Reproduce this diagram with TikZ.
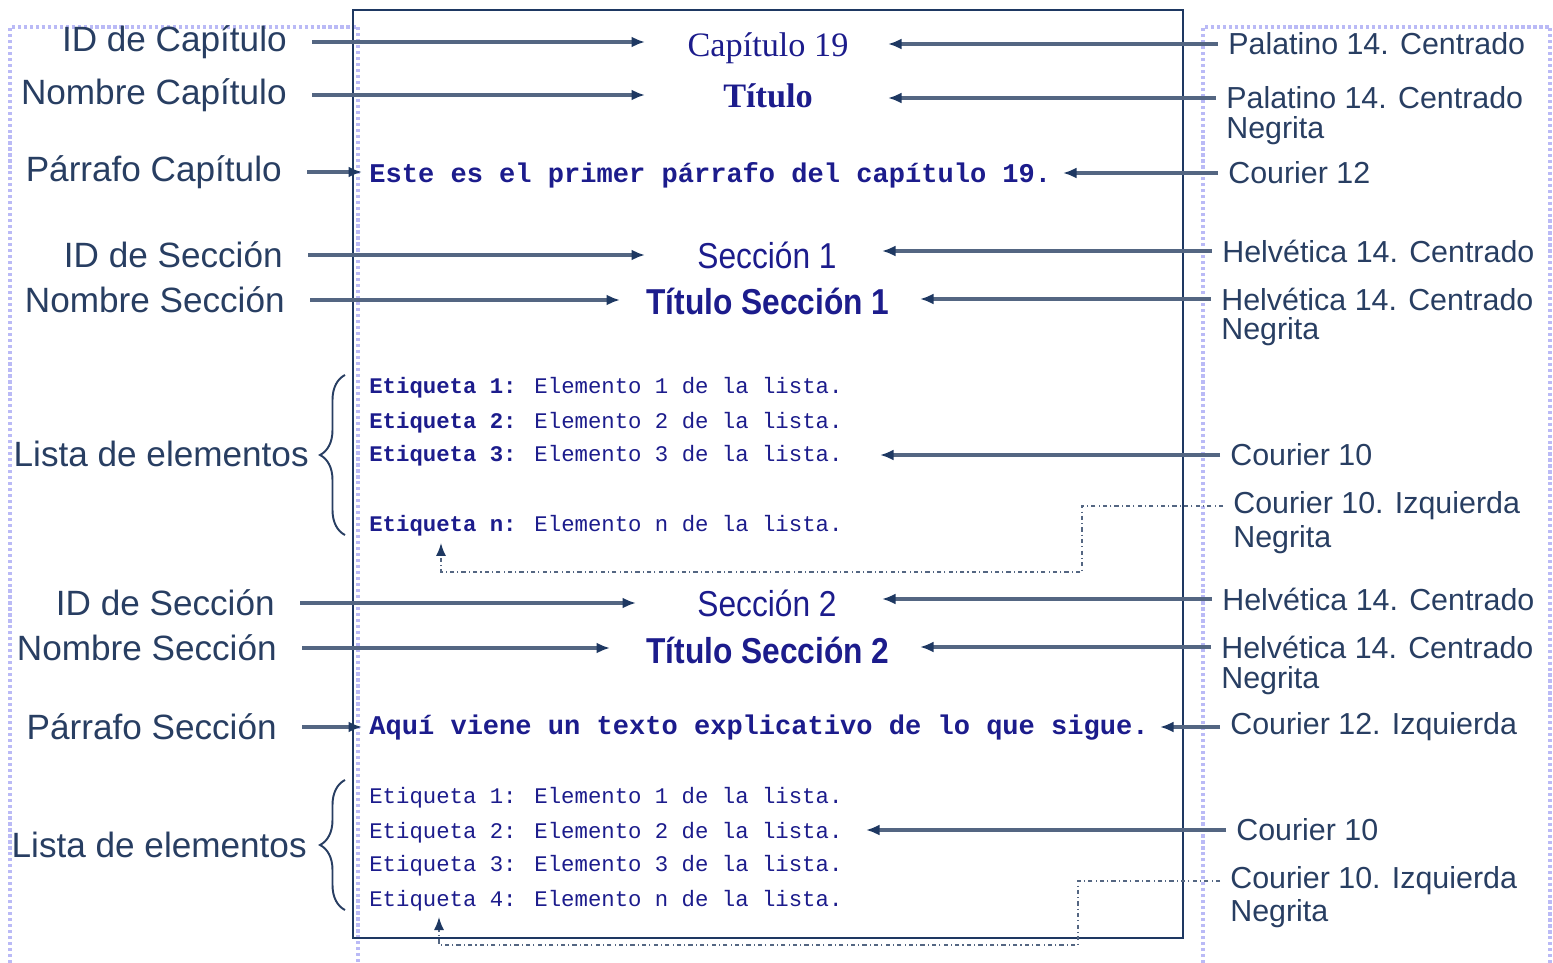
\documentclass[tikz,border=0pt]{standalone}
\usepackage{fontspec}
\usepackage{tikz}
\usetikzlibrary{positioning,arrows.meta,calc,decorations.pathreplacing}

\newfontfamily\lblfont{Liberation Sans}
\newfontfamily\palfont{Liberation Serif}
\newfontfamily\helvfont[FakeStretch=0.88]{Liberation Sans}
\newfontfamily\courfont{Liberation Mono}

\definecolor{lblcol}{RGB}{40,62,98}
\definecolor{txtblue}{RGB}{28,28,140}
\definecolor{pagecol}{RGB}{30,56,98}
\definecolor{arrcol}{RGB}{84,102,130}
\definecolor{dotcol}{RGB}{186,186,246}

\begin{document}
\begin{tikzpicture}[x=0.02cm,y=-0.02cm,
  every node/.style={inner sep=0pt},
  llbl/.style={text=lblcol, font=\lblfont\fontsize{20}{24}\selectfont, anchor=east, inner xsep=0.5cm},
  rlbl/.style={text=lblcol, font=\lblfont\fontsize{17.3}{21}\selectfont, anchor=west, inner xsep=0.2cm},
  palt/.style={text=txtblue, font=\palfont\fontsize{19.5}{23}\selectfont},
  helvt/.style={text=txtblue, font=\helvfont\fontsize{20.5}{24}\selectfont},
  courl/.style={text=txtblue, font=\courfont\bfseries\fontsize{15.4}{18}\selectfont, anchor=west},
  etq/.style={text=txtblue, font=\courfont\fontsize{12.7}{15}\selectfont, anchor=west},
  arr/.style={draw=arrcol, line width=2.2pt, -{Latex[length=0.27cm,width=0.22cm,color=pagecol]}},
  dd/.style={draw=arrcol, line width=0.9pt, dash pattern=on 2.4pt off 1.8pt on 0.6pt off 1.8pt,
    -{Latex[length=0.26cm,width=0.2cm,color=pagecol]}},
  dotbox/.style={draw=dotcol, line width=2pt, dash pattern=on 1.8pt off 1.6pt},
  brc/.style={draw=lblcol, line width=1.1pt, decorate, decoration={brace, amplitude=0.5cm}}
]
\useasboundingbox (0,0) rectangle (1553,963);

% lavender guides and the page
\draw[dotbox] (10,963) -- (10,27) -- (358,27) -- (358,963);
\draw[dotbox] (1203,963) -- (1203,27) -- (1550,27) -- (1550,963);
\draw[pagecol, line width=1.2pt] (353,10) rectangle (1183,938);

% page contents
\node[palt] (cap19) at (768,48) {Capítulo 19};
\node[palt, font=\palfont\bfseries\fontsize{19.5}{23}\selectfont] (titcap) at (768,96) {Título};
\node[courl] (parr1) at (369,175) {Este es el primer párrafo del capítulo 19.};
\node[helvt] (sec1) at (767,255) {Sección 1};
\node[helvt, font=\helvfont\bfseries\fontsize{20.5}{24}\selectfont] (titsec1) at (768,301) {Título Sección 1};
\foreach \n/\y in {1/388,2/423,3/456}
  \node[etq] (etq\n) at (369,\y) {\textbf{Etiqueta \n:} Elemento \n\ de la lista.};
\node[etq] (etqn) at (369,526) {\textbf{Etiqueta n:} Elemento n de la lista.};
\node[helvt] (sec2) at (767,603) {Sección 2};
\node[helvt, font=\helvfont\bfseries\fontsize{20.5}{24}\selectfont] (titsec2) at (768,650) {Título Sección 2};
\node[courl] (parr2) at (369,728) {Aquí viene un texto explicativo de lo que sigue.};
\foreach \n/\y in {1/798,2/833,3/866}
  \node[etq] (etqb\n) at (369,\y) {Etiqueta \n: Elemento \n\ de la lista.};
\node[etq] (etqb4) at (369,901) {Etiqueta 4: Elemento n de la lista.};

% left labels
\node[llbl] (idcap) at (312,42) {ID de Capítulo};
\node[llbl] (nomcap) at (312,95) {Nombre Capítulo};
\node[llbl] (parcap) at (307,172) {Párrafo Capítulo};
\node[llbl] (idsec1) at (308,255) {ID de Sección};
\node[llbl] (nomsec1) at (310,300) {Nombre Sección};
\node[llbl, inner xsep=0pt] (lista1) at (309,454) {Lista de elementos};
\node[llbl] (idsec2) at (300,603) {ID de Sección};
\node[llbl] (nomsec2) at (302,648) {Nombre Sección};
\node[llbl] (parsec) at (302,727) {Párrafo Sección};
\node[llbl, inner xsep=0pt] (lista2) at (307,845) {Lista de elementos};

\draw[arr] (idcap.east) -- ++(333,0);
\draw[arr] (nomcap.east) -- ++(333,0);
\draw[arr] (parcap.east) -- ++(55,0);
\draw[arr] (idsec1.east) -- ++(337,0);
\draw[arr] (nomsec1.east) -- ++(310,0);
\draw[arr] (idsec2.east) -- ++(336,0);
\draw[arr] (nomsec2.east) -- ++(308,0);
\draw[arr] (parsec.east) -- ++(60,0);

\draw[brc] (345,535) -- (345,375);
\draw[brc] (345,910) -- (345,780);

% right labels
\node[rlbl] (rpal1) at (1218,44) {Palatino 14. Centrado};
\node[rlbl] (rpal2) at (1216,98) {Palatino 14. Centrado};
\node[rlbl] (rpal2n) at (1216,131) {Negrita};
\node[rlbl] (rcou12) at (1218,173) {Courier 12};
\node[rlbl] (rhel1) at (1212,251) {Helvética 14. Centrado};
\node[rlbl] (rhel2) at (1211,299) {Helvética 14. Centrado};
\node[rlbl] (rhel2n) at (1211,332) {Negrita};
\node[rlbl] (rcou10) at (1220,455) {Courier 10};
\node[rlbl] (rizq1) at (1223,506) {Courier 10. Izquierda};
\node[rlbl] (rizq1n) at (1223,540) {Negrita};
\node[rlbl] (rhel3) at (1212,599) {Helvética 14. Centrado};
\node[rlbl] (rhel4) at (1211,647) {Helvética 14. Centrado};
\node[rlbl] (rhel4n) at (1211,681) {Negrita};
\node[rlbl] (rcou12b) at (1220,727) {Courier 12. Izquierda};
\node[rlbl] (rcou10b) at (1226,830) {Courier 10};
\node[rlbl] (rizq2) at (1220,881) {Courier 10. Izquierda};
\node[rlbl] (rizq2n) at (1220,914) {Negrita};

\draw[arr] (rpal1.west) -- ++(-330,0);
\draw[arr] (rpal2.west) -- ++(-328,0);
\draw[arr] (rcou12.west) -- ++(-155,0);
\draw[arr] (rhel1.west) -- ++(-330,0);
\draw[arr] (rhel2.west) -- ++(-291,0);
\draw[arr] (rcou10.west) -- ++(-340,0);
\draw[arr] (rhel3.west) -- ++(-330,0);
\draw[arr] (rhel4.west) -- ++(-291,0);
\draw[arr] (rcou12b.west) -- ++(-60,0);
\draw[arr] (rcou10b.west) -- ++(-360,0);

\draw[dd] (rizq1.west) -| (1082,572) -| ($(etqn.west)+(72,17)$);
\draw[dd] (rizq2.west) -| (1078,945) -| ($(etqb4.west)+(70,16)$);
\end{tikzpicture}
\end{document}
